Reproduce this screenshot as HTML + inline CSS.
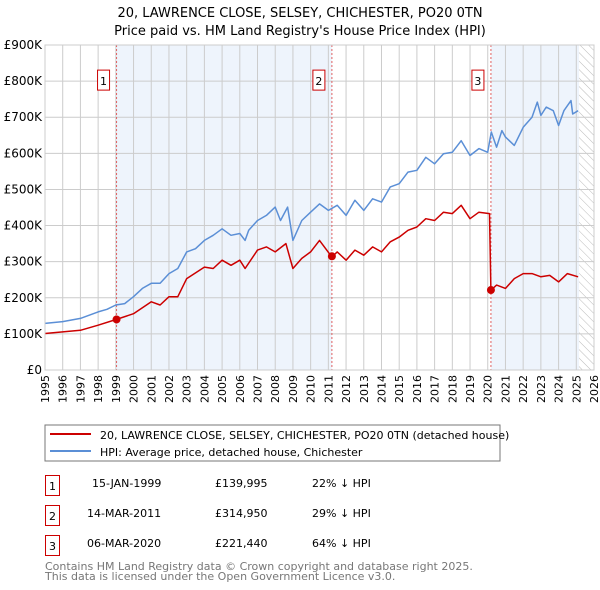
<!DOCTYPE html>
<html><head><meta charset="utf-8"><style>
body{margin:0;background:#fff;font-family:"DejaVu Sans","Liberation Sans",sans-serif;}
#wrap{position:relative;width:600px;height:590px;overflow:hidden;}
</style></head><body>
<div id="wrap">
<svg id="svg" width="600" height="590" xmlns="http://www.w3.org/2000/svg" font-family="DejaVu Sans, Liberation Sans, sans-serif">
<text x="300" y="17" text-anchor="middle" font-size="13">20, LAWRENCE CLOSE, SELSEY, CHICHESTER, PO20 0TN</text>
<text x="300" y="35" text-anchor="middle" font-size="13">Price paid vs. HM Land Registry's House Price Index (HPI)</text>
<g id="plot"></g>
<rect x="45" y="425" width="455" height="36" fill="#fff" stroke="#777"/>
<line x1="50" y1="434" x2="91" y2="434" stroke="#cc0000" stroke-width="2"/>
<text x="100" y="439" font-size="11">20, LAWRENCE CLOSE, SELSEY, CHICHESTER, PO20 0TN (detached house)</text>
<line x1="50" y1="451" x2="91" y2="451" stroke="#5b8fd6" stroke-width="2"/>
<text x="100" y="456" font-size="11">HPI: Average price, detached house, Chichester</text>
<g font-size="11">
<rect x="45.5" y="475.5" width="14" height="20" fill="none" stroke="#cc0000"/>
<text x="52.5" y="490" text-anchor="middle">1</text>
<text x="92" y="487">15-JAN-1999</text>
<text x="215" y="487">£139,995</text>
<text x="312" y="487">22% ↓ HPI</text>
<rect x="45.5" y="505.5" width="14" height="20" fill="none" stroke="#cc0000"/>
<text x="52.5" y="520" text-anchor="middle">2</text>
<text x="87" y="517">14-MAR-2011</text>
<text x="215" y="517">£314,950</text>
<text x="312" y="517">29% ↓ HPI</text>
<rect x="45.5" y="535.5" width="14" height="20" fill="none" stroke="#cc0000"/>
<text x="52.5" y="550" text-anchor="middle">3</text>
<text x="87" y="547">06-MAR-2020</text>
<text x="215" y="547">£221,440</text>
<text x="312" y="547">64% ↓ HPI</text>
</g>
<text x="45" y="570" font-size="11" fill="#777">Contains HM Land Registry data © Crown copyright and database right 2025.</text>
<text x="45" y="580" font-size="11" fill="#777">This data is licensed under the Open Government Licence v3.0.</text>
</svg>
</div>
<script>
const yearTicks=[1995,1996,1997,1998,1999,2000,2001,2002,2003,2004,2005,2006,2007,2008,2009,2010,2011,2012,2013,2014,2015,2016,2017,2018,2019,2020,2021,2022,2023,2024,2025,2026];
const valueTicks=[0,100000,200000,300000,400000,500000,600000,700000,800000,900000];
const valueTickLabels=["£0","£100K","£200K","£300K","£400K","£500K","£600K","£700K","£800K","£900K"];
const hpiDates=[1995,1996,1997,1998,1998.5,1999,1999.5,2000,2000.5,2001,2001.5,2002,2002.5,2003,2003.5,2004,2004.5,2005,2005.5,2006,2006.3,2006.5,2007,2007.5,2008,2008.3,2008.7,2009,2009.5,2010,2010.5,2011,2011.5,2012,2012.5,2013,2013.5,2014,2014.5,2015,2015.5,2016,2016.5,2017,2017.5,2018,2018.5,2019,2019.5,2020,2020.2,2020.5,2020.8,2021,2021.5,2022,2022.5,2022.8,2023,2023.3,2023.7,2024,2024.3,2024.7,2024.8,2025.1];
const hpiValues=[129,134,143,161,168,180,184,203,226,240,240,267,281,327,336,359,373,391,373,378,359,387,414,428,451,414,451,359,414,437,460,442,456,428,470,442,474,465,507,516,548,553,589,571,599,603,635,594,613,603,659,617,663,645,622,672,700,742,705,728,718,677,718,746,709,718];
const priceDates=[1995,1997,1998,1999.04,2000,2001,2001.5,2002,2002.5,2003,2004,2004.5,2005,2005.5,2006,2006.3,2007,2007.5,2008,2008.6,2009,2009.5,2010,2010.5,2011.2,2011.5,2012,2012.5,2013,2013.5,2014,2014.5,2015,2015.5,2016,2016.5,2017,2017.5,2018,2018.5,2019,2019.5,2020.1,2020.18,2020.5,2021,2021.5,2022,2022.5,2023,2023.5,2024,2024.5,2025.1];
const priceValues=[101,110,124,140,156,189,180,203,203,253,285,281,304,290,304,281,332,341,327,350,281,309,327,359,313,327,304,332,318,341,327,355,368,387,396,419,414,437,433,456,419,437,433,221,235,226,253,267,267,258,262,244,267,258];
const saleDates=[1999.04,2011.2,2020.18];
const salePrices=[139995,314950,221440];
const saleLabels=["1","2","3"];

const X0=45,X1=594,Y0=370,Y1=45;
const x=d=>X0+(d-1995)/(2026-1995)*(X1-X0);
const y=v=>Y0-v/900000*(Y0-Y1);
const NS="http://www.w3.org/2000/svg";
const g=document.getElementById('plot');
function mk(t,a){const e=document.createElementNS(NS,t);for(const k in a)e.setAttribute(k,a[k]);g.appendChild(e);return e;}

// shaded ownership regions
let r=mk('rect',{x:x(saleDates[0]),y:Y1,width:x(saleDates[1])-x(saleDates[0]),height:Y0-Y1,fill:'#eef4fc'});


r=mk('rect',{x:x(saleDates[2]),y:Y1,width:x(2025.15)-x(saleDates[2]),height:Y0-Y1,fill:'#eef4fc'});


// hatch future
const defs=mk('defs',{});
defs.innerHTML='<pattern id="hatch" width="6" height="6" patternUnits="userSpaceOnUse" patternTransform="rotate(-45)"><line x1="0" y1="0" x2="0" y2="6" stroke="#bbb" stroke-width="1"/></pattern>';
r=mk('rect',{x:x(2025.15),y:Y1,width:X1-x(2025.15),height:Y0-Y1,fill:'url(#hatch)'});



// grid
yearTicks.forEach(t=>{
  const l=mk('line',{x1:x(t),x2:x(t),y1:Y1,y2:Y0,stroke:'#ccc','stroke-width':1});
  
  
  const tx=mk('text',{x:0,y:0,'font-size':11,'text-anchor':'end',transform:`translate(${x(t)+4},${Y0+5}) rotate(-90)`});
  tx.textContent=t;
  
  
});
valueTicks.forEach((v,i)=>{
  const l=mk('line',{x1:X0,x2:X1,y1:y(v),y2:y(v),stroke:'#ccc','stroke-width':1});
  
  
  const tx=mk('text',{x:X0-3,y:y(v)+4,'font-size':12,'text-anchor':'end'});
  tx.textContent=valueTickLabels[i];
  
  
});

// sale vertical lines and markers
saleDates.forEach((d,i)=>{
  const l=mk('line',{x1:x(d),x2:x(d),y1:Y1,y2:Y0,stroke:'#e06060','stroke-width':1,'stroke-dasharray':'2,2'});
  
  
  const b=mk('rect',{x:x(d)-19,y:y(800000)-11,width:12,height:20,fill:'#fff',stroke:'#cc0000'});
  
  
  const t=mk('text',{x:x(d)-13,y:y(800000)+4,'font-size':11,'text-anchor':'middle'});
  t.textContent=saleLabels[i];
  
  
});

function path(ds,vs,col,name){
  const d=ds.map((t,i)=>(i?'L':'M')+x(t).toFixed(1)+','+y(vs[i]*1000).toFixed(1)).join('');
  const p=mk('path',{d:d,fill:'none',stroke:col,'stroke-width':1.5,'stroke-linejoin':'round'});
  
  
}
path(hpiDates,hpiValues,'#5b8fd6','hpi-line');
path(priceDates,priceValues,'#cc0000','price-paid-line');
saleDates.forEach((d,i)=>{
  const c=mk('circle',{cx:x(d),cy:y(salePrices[i]),r:4,fill:'#cc0000'});
  
  
});
const f=mk('rect',{x:X0,y:Y1,width:X1-X0,height:Y0-Y1,fill:'none',stroke:'#ccc'});


</script>
</body></html>
